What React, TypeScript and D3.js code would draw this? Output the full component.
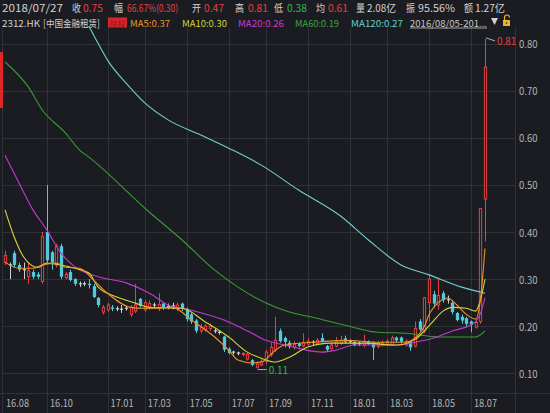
import React from 'react';
import * as d3 from 'd3';

const W = 550;
const H = 413;

// Weekly candles 2016/08/05 - 2018/07/27
const opens = [0.335,0.33,0.355,0.33,0.32,0.305,0.315,0.31,0.295,0.40,0.357,0.33,0.37,0.303,0.315,0.30,0.29,0.29,0.29,0.285,0.26,0.23,0.235,0.24,0.237,0.236,0.238,0.225,0.232,0.258,0.235,0.24,0.245,0.238,0.248,0.242,0.243,0.238,0.248,0.235,0.225,0.212,0.19,0.193,0.195,0.19,0.187,0.178,0.152,0.145,0.143,0.14,0.13,0.128,0.113,0.118,0.125,0.14,0.15,0.19,0.175,0.165,0.155,0.163,0.158,0.162,0.166,0.163,0.175,0.158,0.152,0.158,0.164,0.174,0.168,0.166,0.163,0.16,0.168,0.165,0.157,0.16,0.162,0.16,0.176,0.176,0.16,0.166,0.158,0.21,0.19,0.25,0.268,0.245,0.27,0.256,0.25,0.228,0.22,0.217,0.21,0.198,0.21,0.47];
const highs = [0.36,0.335,0.36,0.335,0.335,0.335,0.32,0.315,0.40,0.50,0.36,0.375,0.375,0.315,0.32,0.302,0.295,0.295,0.30,0.29,0.262,0.245,0.25,0.245,0.242,0.245,0.243,0.245,0.29,0.26,0.255,0.255,0.25,0.27,0.25,0.248,0.25,0.25,0.25,0.24,0.228,0.215,0.205,0.205,0.205,0.195,0.19,0.18,0.155,0.148,0.146,0.145,0.143,0.13,0.125,0.13,0.15,0.165,0.22,0.195,0.178,0.17,0.168,0.166,0.185,0.175,0.17,0.175,0.185,0.16,0.165,0.177,0.18,0.18,0.172,0.17,0.167,0.182,0.17,0.168,0.168,0.17,0.172,0.18,0.178,0.178,0.172,0.168,0.21,0.215,0.262,0.31,0.275,0.30,0.275,0.265,0.255,0.23,0.225,0.22,0.212,0.212,0.45,0.81];
const lows = [0.33,0.30,0.325,0.315,0.30,0.29,0.30,0.30,0.29,0.335,0.32,0.325,0.30,0.30,0.295,0.285,0.283,0.285,0.28,0.26,0.24,0.225,0.23,0.232,0.232,0.228,0.233,0.22,0.228,0.24,0.23,0.235,0.238,0.232,0.235,0.236,0.236,0.232,0.232,0.21,0.205,0.185,0.185,0.188,0.19,0.185,0.182,0.145,0.14,0.14,0.138,0.136,0.127,0.115,0.11,0.115,0.12,0.135,0.145,0.165,0.155,0.152,0.15,0.155,0.155,0.158,0.16,0.16,0.165,0.147,0.15,0.155,0.16,0.163,0.163,0.157,0.158,0.155,0.16,0.128,0.153,0.157,0.158,0.158,0.165,0.163,0.157,0.148,0.155,0.19,0.185,0.21,0.24,0.235,0.25,0.248,0.225,0.21,0.205,0.20,0.187,0.195,0.205,0.38];
const closes = [0.35,0.33,0.33,0.32,0.32,0.318,0.305,0.305,0.39,0.34,0.335,0.37,0.305,0.31,0.298,0.29,0.29,0.29,0.287,0.262,0.245,0.24,0.245,0.237,0.237,0.236,0.238,0.24,0.245,0.243,0.25,0.248,0.245,0.246,0.24,0.242,0.243,0.245,0.238,0.215,0.21,0.19,0.198,0.2,0.2,0.19,0.187,0.15,0.143,0.145,0.143,0.142,0.14,0.118,0.12,0.125,0.145,0.155,0.17,0.168,0.167,0.157,0.162,0.158,0.165,0.168,0.166,0.17,0.167,0.15,0.16,0.168,0.17,0.167,0.168,0.16,0.163,0.168,0.163,0.155,0.163,0.165,0.168,0.175,0.17,0.167,0.168,0.155,0.195,0.193,0.26,0.30,0.248,0.265,0.255,0.256,0.23,0.213,0.212,0.205,0.203,0.208,0.45,0.75];

// Moving averages (candle index, value)
const ma5Idx = [0,3,6,8,11,13,16,19,22,27,30,36,40,45,48,50,53,55,58,60,66,73,80,86,88,89,90,91,92,94,95,97,99,101,102,103];
const ma5Val = [0.336,0.323,0.323,0.330,0.334,0.325,0.323,0.298,0.270,0.240,0.238,0.240,0.213,0.177,0.149,0.128,0.122,0.124,0.149,0.160,0.166,0.170,0.166,0.166,0.175,0.185,0.20,0.225,0.24,0.257,0.26,0.245,0.225,0.215,0.255,0.365];
const ma10Idx = [0,2,4,7,9,12,15,18,20,24,28,31,38,43,48,52,55,58,61,65,70,77,84,88,90,92,94,96,99,101,102,103];
const ma10Val = [0.447,0.389,0.347,0.325,0.334,0.330,0.323,0.313,0.283,0.262,0.249,0.240,0.238,0.209,0.177,0.145,0.132,0.124,0.134,0.156,0.164,0.164,0.160,0.172,0.19,0.212,0.232,0.24,0.238,0.232,0.255,0.30];
const ma20Idx = [0,3,6,9,12,15,20,26,31,35,40,47,53,56,60,63,68,71,75,80,84,88,92,96,100,101,102,103];
const ma20Val = [0.563,0.504,0.447,0.404,0.355,0.326,0.305,0.292,0.270,0.245,0.234,0.213,0.185,0.170,0.160,0.153,0.145,0.149,0.160,0.160,0.160,0.166,0.175,0.19,0.203,0.21,0.226,0.26];
const ma60Idx = [0,5,8,13,16,18,31,38,45,50,56,61,66,73,80,86,93,101,103];
const ma60Val = [0.761,0.708,0.659,0.610,0.574,0.559,0.442,0.383,0.319,0.283,0.249,0.230,0.219,0.202,0.187,0.185,0.177,0.177,0.19];
const ma120Idx = [16,18,20,22,26,30,35,42,48,55,63,72,78,85,91,98,103];
const ma120Val = [0.871,0.837,0.80,0.765,0.716,0.674,0.638,0.606,0.578,0.542,0.489,0.434,0.383,0.330,0.309,0.283,0.27];

const xTickLabels = ['16.08','16.10','17.01','17.03','17.05','17.07','17.09','17.11','18.01','18.03','18.05','18.07'];
const xTickIdx = [0,9,22,30,39,48,56,65,74,82,91,100];
const yTicks = [0.1,0.2,0.3,0.4,0.5,0.6,0.7,0.8];

const header1 = [
  { t: '2018/07/27', x: 2, w: 61, c: '#d2d2d2' },
  { t: '收', x: 72, w: 9, c: '#d2d2d2' },
  { t: '0.75', x: 83, w: 20, c: '#e5403f' },
  { t: '幅', x: 114, w: 9, c: '#d2d2d2' },
  { t: '66.67%(0.30)', x: 127, w: 51, c: '#e5403f' },
  { t: '开', x: 192, w: 9, c: '#d2d2d2' },
  { t: '0.47', x: 204, w: 20, c: '#e5403f' },
  { t: '高', x: 235, w: 9, c: '#d2d2d2' },
  { t: '0.81', x: 248, w: 20, c: '#e5403f' },
  { t: '低', x: 274, w: 9, c: '#d2d2d2' },
  { t: '0.38', x: 287, w: 20, c: '#2fb84e' },
  { t: '均', x: 316, w: 9, c: '#d2d2d2' },
  { t: '0.61', x: 328, w: 20, c: '#e5403f' },
  { t: '量', x: 356, w: 9, c: '#d2d2d2' },
  { t: '2.08亿', x: 367, w: 29, c: '#d2d2d2' },
  { t: '振', x: 406, w: 9, c: '#d2d2d2' },
  { t: '95.56%', x: 418, w: 37, c: '#d2d2d2' },
  { t: '额', x: 464, w: 9, c: '#d2d2d2' },
  { t: '1.27亿', x: 475, w: 30, c: '#d2d2d2' },
];
const header2 = [
  { t: '2312.HK', x: 2, w: 38, c: '#d2d2d2' },
  { t: '[中国金融租赁]', x: 43, w: 57, c: '#d2d2d2' },
  { t: 'MA5:0.37', x: 130, w: 40, c: '#e6962c' },
  { t: 'MA10:0.30', x: 182, w: 45, c: '#d6d23a' },
  { t: 'MA20:0.26', x: 238, w: 46, c: '#c43cd0' },
  { t: 'MA60:0.19', x: 295, w: 44, c: '#3ea33e' },
  { t: 'MA120:0.27', x: 351, w: 52, c: '#62cccc' },
  { t: '2016/08/05-201...', x: 410, w: 77, c: '#c8c8c8' },
];

const BG = '#1b1c21';
const GRID = '#30323a';
const RED = '#e8403f';
const CYAN = '#52cade';
const FONT = "'Noto Sans CJK SC', 'Noto Sans', sans-serif";

export default function App() {
  const n = closes.length;
  const step = 4.66;
  const x0 = 2.67;
  const x = d3.scaleBand<number>().domain(d3.range(n)).range([x0, x0 + n * step]).paddingInner(0.3).paddingOuter(0.15);
  const bw = x.bandwidth();
  const cx = (i: number) => (x(i) as number) + bw / 2;
  const y = d3.scaleLinear().domain([0.1, 0.8]).range([373.3, 43.6]);

  const plotRight = 515;
  const plotTop = 26;
  const plotBottom = 393;

  const line = d3.line<[number, number]>().x(d => cx(d[0])).y(d => y(d[1])).curve(d3.curveMonotoneX);
  const mas = [
    { idx: ma120Idx, val: ma120Val, c: '#6fcfcf' },
    { idx: ma60Idx, val: ma60Val, c: '#3a9a3a' },
    { idx: ma20Idx, val: ma20Val, c: '#c23ad0' },
    { idx: ma10Idx, val: ma10Val, c: '#d8d43c' },
    { idx: ma5Idx, val: ma5Val, c: '#e8922c' },
  ];

  const hiIdx = d3.maxIndex(highs);
  const loIdx = d3.minIndex(lows);

  return (
    <svg width={W} height={H} style={{ position: 'absolute', left: 0, top: 0, background: BG }} fontFamily={FONT}>
      <rect x={0} y={0} width={W} height={H} fill={BG} />
      <defs>
        <clipPath id="plot">
          <rect x={2} y={plotTop} width={plotRight - 2} height={plotBottom - plotTop} />
        </clipPath>
      </defs>
      {/* grid */}
      {yTicks.map(v => (
        <line key={'h' + v} x1={2} x2={plotRight} y1={Math.round(y(v)) + 0.5} y2={Math.round(y(v)) + 0.5} stroke={GRID} />
      ))}
      {xTickIdx.map((i, k) => k === 0 ? null : (
        <line key={'v' + i} x1={Math.round(cx(i)) + 0.5} x2={Math.round(cx(i)) + 0.5} y1={28} y2={H} stroke={GRID} />
      ))}
      <line x1={2.5} x2={2.5} y1={28} y2={H} stroke={GRID} />
      <line x1={plotRight + 0.5} x2={plotRight + 0.5} y1={28} y2={H} stroke={GRID} />
      <line x1={0} x2={W} y1={plotBottom + 0.5} y2={plotBottom + 0.5} stroke={GRID} />
      <rect x={0} y={52} width={3} height={56} fill="#e0262b" />

      {/* candles */}
      <g clipPath="url(#plot)">
        {closes.map((c, i) => {
          const o = opens[i];
          const xc = Math.round(cx(i)) + 0.5;
          const up = c > o;
          const doji = Math.abs(c - o) < 1e-9;
          const col = doji ? '#cfcfcf' : up ? RED : CYAN;
          const top = y(Math.max(o, c));
          const bot = y(Math.min(o, c));
          return (
            <g key={i}>
              <line x1={xc} x2={xc} y1={y(highs[i])} y2={y(lows[i])} stroke={col} strokeWidth={1} />
              {doji ? (
                <line x1={xc - bw / 2} x2={xc + bw / 2} y1={top} y2={top} stroke={col} strokeWidth={1.2} />
              ) : up ? (
                <rect x={xc - bw / 2 + 0.5} y={top} width={bw - 1} height={Math.max(bot - top, 1)} fill={BG} stroke={col} strokeWidth={1} />
              ) : (
                <rect x={xc - bw / 2} y={top} width={bw} height={Math.max(bot - top, 1)} fill={col} />
              )}
            </g>
          );
        })}
        {mas.map((m, k) => (
          <path key={k} d={line(m.idx.map((ii, j) => [ii, m.val[j]] as [number, number])) || ''} fill="none" stroke={m.c} strokeWidth={1.1} />
        ))}
      </g>

      {/* high / low annotations */}
      <line x1={cx(hiIdx) + 1} y1={y(highs[hiIdx]) - 1} x2={cx(hiIdx) + 10} y2={y(highs[hiIdx]) + 2} stroke="#d8d8d8" strokeWidth={0.8} />
      <text x={cx(hiIdx) + 12} y={y(highs[hiIdx]) + 2} fontSize={10} fill={RED} dominantBaseline="central">{highs[hiIdx].toFixed(2)}</text>
      <line x1={cx(loIdx) + 1} y1={y(lows[loIdx]) + 1} x2={cx(loIdx) + 10} y2={y(lows[loIdx]) + 1} stroke="#d8d8d8" strokeWidth={0.8} />
      <text x={cx(loIdx) + 12} y={y(lows[loIdx]) + 1} fontSize={10} fill="#2fb84e" dominantBaseline="central">{lows[loIdx].toFixed(2)}</text>

      {/* y axis labels */}
      {yTicks.map(v => (
        <text key={'yl' + v} x={519} y={y(v)} fontSize={10} fill="#b4b4b4" dominantBaseline="central" textLength={18.5} lengthAdjust="spacingAndGlyphs">{v.toFixed(2)}</text>
      ))}
      {/* x axis labels */}
      {xTickIdx.map((i, k) => (
        <text key={'xl' + i} x={(k === 0 ? 3 : cx(i)) + 3} y={402} fontSize={10.5} fill="#b4b4b4" dominantBaseline="central" textLength={23} lengthAdjust="spacingAndGlyphs">{xTickLabels[k]}</text>
      ))}

      {/* header */}
      {header1.map((h, k) => (
        <text key={'h1' + k} x={h.x} y={7.5} fontSize={10.5} fill={h.c} dominantBaseline="central" textLength={h.w} lengthAdjust="spacingAndGlyphs">{h.t}</text>
      ))}
      {header2.map((h, k) => (
        <text key={'h2' + k} x={h.x} y={22.5} fontSize={9.5} fill={h.c} dominantBaseline="central" textLength={h.w} lengthAdjust="spacingAndGlyphs">{h.t}</text>
      ))}
      <rect x={108} y={17.5} width={19} height={10} fill="#d9262c" />
      <text x={109.5} y={22.5} fontSize={8.5} fill="#9e1217" dominantBaseline="central" textLength={16} lengthAdjust="spacingAndGlyphs">除权</text>
      <line x1={410} x2={487} y1={28} y2={28} stroke="#c8c8c8" strokeWidth={0.8} />
      <path d="M491,18 L498,18 L494.5,25 Z" fill="#d0d0d0" />
      <path d="M504.5,20 L504.5,17.5 A2.5,2.5 0 0 1 509.5,17.5" fill="none" stroke="#e8b62e" strokeWidth={1.2} />
      <rect x={503} y={20} width={7} height={6} fill="#e8b62e" />
      <rect x={505.8} y={22} width={1.4} height={2} fill="#7a4a00" />
    </svg>
  );
}
